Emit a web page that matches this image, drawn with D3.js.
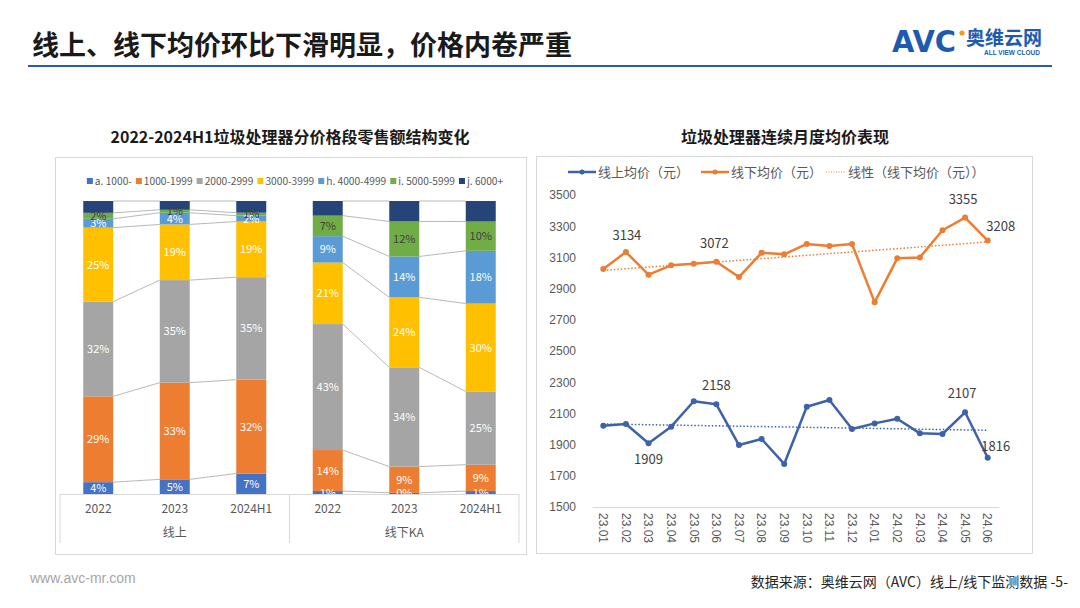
<!DOCTYPE html>
<html><head><meta charset="utf-8">
<script src="https://cdn.jsdelivr.net/npm/d3@7"></script>
<style>
html,body{margin:0;padding:0;background:#fff;}
svg{display:block;font-family:"Noto Sans CJK SC","Noto Sans",sans-serif;}
</style></head>
<body>
<svg id="c" width="1080" height="608"></svg>
<script>
// ---------- DATA ----------
const barCategories = ["2022","2023","2024H1","2022","2023","2024H1"];
const barGroups = ["线上","线下KA"];
const priceBands = ["a. 1000-","1000-1999","2000-2999","3000-3999","h. 4000-4999","i. 5000-5999","j. 6000+"];
const shareA   = [4, 5, 7, 1, 0.4, 1];
const share1000 = [29, 33, 32, 14, 9, 9];
const share2000 = [32, 35, 35, 43, 34, 25];
const share3000 = [25, 19, 19, 21, 24, 30];
const share4000 = [3, 4, 2, 9, 14, 18];
const share5000 = [2, 1, 1, 7, 12, 10];
const share6000 = [4, 3, 4, 5, 7, 7];

const months = ["23.01","23.02","23.03","23.04","23.05","23.06","23.07","23.08","23.09","23.10","23.11","23.12","24.01","24.02","24.03","24.04","24.05","24.06"];
const onlinePrice  = [2021,2032,1909,2015,2178,2158,1897,1936,1776,2143,2186,2000,2036,2066,1972,1968,2107,1816];
const offlinePrice = [3026,3134,2989,3049,3060,3072,2974,3130,3120,3186,3173,3186,2812,3094,3100,3274,3355,3208];
const onlineLabelled  = ["23.03","23.06","24.05","24.06"];
const offlineLabelled = ["23.02","23.06","24.05","24.06"];
const yTicks = [1500,1700,1900,2100,2300,2500,2700,2900,3100,3300,3500];

// ---------- STYLE ----------
const bandColors = ["#4472C4","#ED7D31","#A5A5A5","#FFC000","#5B9BD5","#70AD47","#264478"];
const bandLabelColors = ["#fff","#fff","#fff","#fff","#fff","#404040",null];
const cOnline = "#3D62A8", cOffline = "#ED7D31";

const svg = d3.select("#c");

// ---------- HEADER ----------
svg.append("text").attr("x",32).attr("y",55).attr("font-size",27).attr("font-weight","bold")
  .attr("fill","#1a1a1a").text("线上、线下均价环比下滑明显，价格内卷严重");
svg.append("line").attr("x1",28).attr("x2",1052).attr("y1",66).attr("y2",66)
  .attr("stroke","#2F5BA5").attr("stroke-width",2);
// logo
svg.append("text").attr("x",892).attr("y",52).attr("font-size",31).attr("font-weight","bold")
  .attr("font-family","DejaVu Sans, sans-serif").attr("textLength",64).attr("lengthAdjust","spacingAndGlyphs")
  .attr("fill","#1E5BB0").text("AVC");
svg.append("circle").attr("cx",962).attr("cy",33).attr("r",2.6).attr("fill","#F39A1E");
svg.append("text").attr("x",966).attr("y",45).attr("font-size",19).attr("font-weight","bold")
  .attr("fill","#1E5BB0").text("奥维云网");
svg.append("text").attr("x",984).attr("y",55).attr("font-size",6.5).attr("font-weight","bold")
  .attr("fill","#1E5BB0").attr("font-family","Liberation Sans, sans-serif").text("ALL VIEW CLOUD");

// ---------- FOOTER ----------
svg.append("text").attr("x",30).attr("y",583).attr("font-size",14).attr("fill","#a6a6a6")
  .attr("font-family","Liberation Sans, sans-serif").text("www.avc-mr.com");
svg.append("text").attr("x",1068).attr("y",587).attr("font-size",14).attr("fill","#262626")
  .attr("text-anchor","end").text("数据来源：奥维云网（AVC）线上/线下监测数据  -5-");

// ================= LEFT CHART =================
svg.append("text").attr("x",290).attr("y",143).attr("text-anchor","middle").attr("font-size",16)
  .attr("font-weight","bold").attr("fill","#1a1a1a").text("2022-2024H1垃圾处理器分价格段零售额结构变化");
svg.append("rect").attr("x",55.5).attr("y",157.5).attr("width",471).attr("height",397)
  .attr("fill","none").attr("stroke","#d9d9d9");

const ids = barCategories.map((d,i)=>i);
const xB = d3.scaleBand().domain(ids).range([60,519]).paddingInner(0.608).paddingOuter(0.304);
const yB = d3.scaleLinear().domain([0,1]).range([494,201]);
const seriesArrays = [shareA,share1000,share2000,share3000,share4000,share5000,share6000];
const rows = ids.map(i => { const o = {id:i}; priceBands.forEach((b,k)=>o[b]=seriesArrays[k][i]); return o; });
const stacked = d3.stack().keys(priceBands).offset(d3.stackOffsetExpand)(rows);

// series lines between adjacent bars in each group
const pairs = [[0,1],[1,2],[3,4],[4,5]];
const gL = svg.append("g");
stacked.forEach((s,k)=>{
  pairs.forEach(([a,b])=>{
    gL.append("line").attr("x1",xB(a)+xB.bandwidth()).attr("x2",xB(b))
      .attr("y1",yB(s[a][1])).attr("y2",yB(s[b][1]))
      .attr("stroke","#a6a6a6").attr("stroke-width",0.8);
  });
});
const gBars = svg.append("g");
stacked.forEach((s,k)=>{
  gBars.selectAll(null).data(s).enter().append("rect")
    .attr("x",d=>xB(d.data.id)).attr("width",xB.bandwidth())
    .attr("y",d=>yB(d[1])).attr("height",d=>yB(d[0])-yB(d[1]))
    .attr("fill",bandColors[k]);
});
stacked.forEach((s,k)=>{
  if(!bandLabelColors[k]) return;
  gBars.selectAll(null).data(s).enter().append("text")
    .attr("x",d=>xB(d.data.id)+xB.bandwidth()/2).attr("y",d=>yB((d[0]+d[1])/2)+4)
    .attr("text-anchor","middle").attr("font-size",11).attr("fill",bandLabelColors[k])
    .text(d=>Math.round(d.data[priceBands[k]])+"%");
});
// category axis
svg.append("line").attr("x1",60).attr("x2",519).attr("y1",494.5).attr("y2",494.5).attr("stroke","#d9d9d9");
[60,289.5,519].forEach(x=>svg.append("line").attr("x1",x).attr("x2",x).attr("y1",494).attr("y2",543).attr("stroke","#d9d9d9"));
svg.append("g").selectAll("text").data(ids).enter().append("text")
  .attr("x",i=>xB(i)+xB.bandwidth()/2).attr("y",513).attr("text-anchor","middle")
  .attr("font-size",12).attr("fill","#595959").text(i=>barCategories[i]);
svg.append("g").selectAll("text").data(barGroups).enter().append("text")
  .attr("x",(d,g)=>(xB(g*3+1)+xB.bandwidth()/2)).attr("y",537).attr("text-anchor","middle")
  .attr("font-size",12).attr("fill","#595959").text(d=>d);
// legend
const lgL = svg.append("g").attr("font-size",10.2).attr("fill","#595959");
let lx = 0;
priceBands.forEach((b,k)=>{
  lgL.append("rect").attr("x",lx).attr("y",-3).attr("width",6).attr("height",6).attr("fill",bandColors[k]);
  const t = lgL.append("text").attr("x",lx+8).attr("y",3.8).text(b);
  lx += 8 + t.node().getComputedTextLength() + 4;
});
lgL.attr("transform",`translate(${295-(lx-4)/2},181)`);

// ================= RIGHT CHART =================
svg.append("text").attr("x",785).attr("y",143).attr("text-anchor","middle").attr("font-size",16)
  .attr("font-weight","bold").attr("fill","#1a1a1a").text("垃圾处理器连续月度均价表现");
svg.append("rect").attr("x",536.5).attr("y",156.5).attr("width",496).attr("height",397)
  .attr("fill","none").attr("stroke","#d9d9d9");

const xM = d3.scaleBand().domain(months).range([592,999]);
const yM = d3.scaleLinear().domain([1500,3500]).range([507,195]);
const cx = m => xM(m)+xM.bandwidth()/2;

const yAxis = d3.axisLeft(yM).tickValues(yTicks).tickFormat(d3.format("d")).tickSize(0).tickPadding(0);
const gy = svg.append("g").attr("transform","translate(576,0)").call(yAxis);
gy.select(".domain").remove();
gy.selectAll("text").attr("font-size",12).attr("fill","#595959").attr("font-family",null);

const xAxis = d3.axisBottom(xM).tickSize(0).tickPadding(0);
const gx = svg.append("g").attr("transform","translate(0,507)").call(xAxis);
gx.select(".domain").attr("stroke","#d9d9d9");
gx.selectAll("text").attr("font-size",12).attr("fill","#595959").attr("font-family",null)
  .attr("transform","rotate(90)").attr("text-anchor","start").attr("dy","0.35em").attr("x",6).attr("y",0);

function trend(vals){
  const n = vals.length, xs = vals.map((v,i)=>i);
  const mx = d3.mean(xs), my = d3.mean(vals);
  const b = d3.sum(xs,(x,i)=>(x-mx)*(vals[i]-my))/d3.sum(xs,x=>(x-mx)*(x-mx));
  const a = my - b*mx;
  return [a, a + b*(n-1)];
}
function drawSeries(vals,color){
  const [t0,t1] = trend(vals);
  svg.append("line").attr("x1",cx(months[0])).attr("x2",cx(months[months.length-1]))
    .attr("y1",yM(t0)).attr("y2",yM(t1)).attr("stroke",color).attr("stroke-width",1.5)
    .attr("stroke-dasharray","1.5,2");
  const line = d3.line().x((d,i)=>cx(months[i])).y(d=>yM(d));
  svg.append("path").datum(vals).attr("d",line).attr("fill","none").attr("stroke",color)
    .attr("stroke-width",2.5).attr("stroke-linejoin","round");
  svg.append("g").selectAll("circle").data(vals).enter().append("circle")
    .attr("cx",(d,i)=>cx(months[i])).attr("cy",d=>yM(d)).attr("r",3).attr("fill",color);
}
drawSeries(offlinePrice,cOffline);
drawSeries(onlinePrice,cOnline);

// data labels
const labelOffsets = {
  "on-23.03":[0,21], "on-23.06":[0,-14], "on-24.05":[-3,-14], "on-24.06":[8,-7],
  "off-23.02":[1,-12], "off-23.06":[-2,-14], "off-24.05":[-2,-14], "off-24.06":[13,-10]
};
function drawLabels(vals,keys,pre){
  keys.forEach(m=>{
    const i = months.indexOf(m), o = labelOffsets[pre+"-"+m];
    svg.append("text").attr("x",cx(m)+o[0]).attr("y",yM(vals[i])+o[1]).attr("text-anchor","middle")
      .attr("font-size",13).attr("fill","#404040").text(vals[i]);
  });
}
drawLabels(onlinePrice,onlineLabelled,"on");
drawLabels(offlinePrice,offlineLabelled,"off");

// legend
const lgR = svg.append("g").attr("font-size",13).attr("fill","#595959");
const legItems = [
  {t:"线上均价（元）", c:cOnline, type:"line", x:568, w:28},
  {t:"线下均价（元）", c:cOffline, type:"line", x:701, w:28},
  {t:"线性（线下均价（元））", c:cOffline, type:"dot", x:826, w:20}
];
legItems.forEach(it=>{
  if(it.type==="line"){
    lgR.append("line").attr("x1",it.x).attr("x2",it.x+it.w).attr("y1",172).attr("y2",172)
      .attr("stroke",it.c).attr("stroke-width",2.5);
    lgR.append("circle").attr("cx",it.x+it.w/2).attr("cy",172).attr("r",2.5).attr("fill",it.c);
  } else {
    lgR.append("line").attr("x1",it.x).attr("x2",it.x+it.w).attr("y1",172).attr("y2",172)
      .attr("stroke",it.c).attr("stroke-width",1).attr("stroke-dasharray","1,1.5");
  }
  lgR.append("text").attr("x",it.x+it.w+2).attr("y",176.5).text(it.t);
});
</script>
</body></html>
